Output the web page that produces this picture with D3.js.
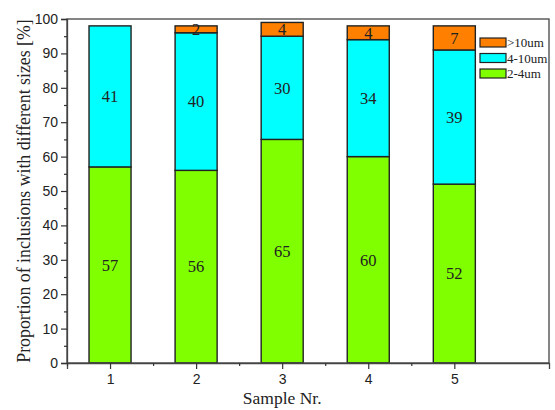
<!DOCTYPE html>
<html><head><meta charset="utf-8">
<script src="https://cdn.jsdelivr.net/npm/d3@7/dist/d3.min.js"></script>
<style>body{margin:0;background:#fff}</style>
</head><body><svg id="c" width="555" height="410"></svg>
<script>
const samples = [1, 2, 3, 4, 5];
const s24 = [57, 56, 65, 60, 52];
const s410 = [41, 40, 30, 34, 39];
const s10 = [0, 2, 4, 4, 7];
const seriesNames = ["2-4um", "4-10um", ">10um"];
const colors = ["#80ff00", "#00ffff", "#ff8000"];
const yTicks = [0, 10, 20, 30, 40, 50, 60, 70, 80, 90, 100];

const SERIF = "'Liberation Serif', 'Times New Roman', serif";
const SANS = "'Liberation Sans', Arial, sans-serif";
const svg = d3.select("#c");
const L = 67, R = 549, T = 19, B = 363;
const x = d3.scaleLinear().domain([0.5, 6.1]).range([L, R]);
const y = d3.scaleLinear().domain([0, 100]).range([B, T]);
const bw = x(1.5) - x(1.0) - 1;

const rows = samples.map((s, i) => ({ s, v: [s24[i], s410[i], s10[i]] }));

rows.forEach(r => {
  let acc = 0;
  r.v.forEach((v, k) => {
    if (v <= 0) return;
    const y0 = acc, y1 = acc + v;
    acc = y1;
    svg.append("rect")
      .attr("x", x(r.s) - bw / 2).attr("width", bw)
      .attr("y", y(y1)).attr("height", y(y0) - y(y1))
      .attr("fill", colors[k]).attr("stroke", "#222").attr("stroke-width", 1.4);
    svg.append("text")
      .attr("x", x(r.s)).attr("y", y((y0 + y1) / 2))
      .attr("dy", "0.35em").attr("text-anchor", "middle")
      .attr("font-family", SERIF).attr("font-size", 16.5)
      .attr("fill", "#222").text(v);
  });
});

svg.append("rect").attr("x", L).attr("y", T).attr("width", R - L).attr("height", B - T)
  .attr("fill", "none").attr("stroke", "#444").attr("stroke-width", 1.3);

svg.append("g").attr("transform", `translate(${L},0)`)
  .call(d3.axisLeft(y).tickValues(yTicks).tickSize(6).tickPadding(3));
svg.append("g").attr("transform", `translate(${L},0)`)
  .call(d3.axisLeft(y).tickValues(d3.range(5, 100, 10)).tickSize(3).tickFormat(""))
  .call(g => g.select(".domain").remove());
svg.append("g").attr("transform", `translate(0,${B})`)
  .call(d3.axisBottom(x).tickValues(samples).tickSize(6).tickPadding(5).tickFormat(d3.format("d")));
svg.append("g").attr("transform", `translate(0,${B})`)
  .call(d3.axisBottom(x).tickValues([0.5, 1.5, 2.5, 3.5, 4.5]).tickSize(3).tickFormat(""))
  .call(g => g.select(".domain").remove());
svg.selectAll(".domain").attr("stroke", "#444").attr("stroke-width", 1.3);
svg.selectAll(".tick line").attr("stroke", "#333").attr("stroke-width", 1.2);
svg.selectAll(".tick text").attr("font-family", SANS).attr("font-size", 14).attr("fill", "#222");

svg.append("text").attr("x", x(3)).attr("y", 404).attr("text-anchor", "middle")
  .attr("font-family", SERIF).attr("font-size", 17.5).attr("fill", "#222").text("Sample Nr.");
svg.append("text").attr("transform", `translate(30,${(T + B) / 2}) rotate(-90)`)
  .attr("text-anchor", "middle").attr("font-family", SERIF).attr("font-size", 17.8)
  .attr("fill", "#222").text("Proportion of inclusions with different sizes [%]");

[2, 1, 0].forEach((k, j) => {
  const ly = 38 + j * 15.5;
  svg.append("rect").attr("x", 480).attr("y", ly).attr("width", 26).attr("height", 9)
    .attr("fill", colors[k]).attr("stroke", "#222").attr("stroke-width", 1.2);
  svg.append("text").attr("x", 507).attr("y", ly + 4.5).attr("dy", "0.35em")
    .attr("font-family", SERIF).attr("font-size", 13).attr("fill", "#222")
    .text(seriesNames[k]);
});
</script></body></html>
